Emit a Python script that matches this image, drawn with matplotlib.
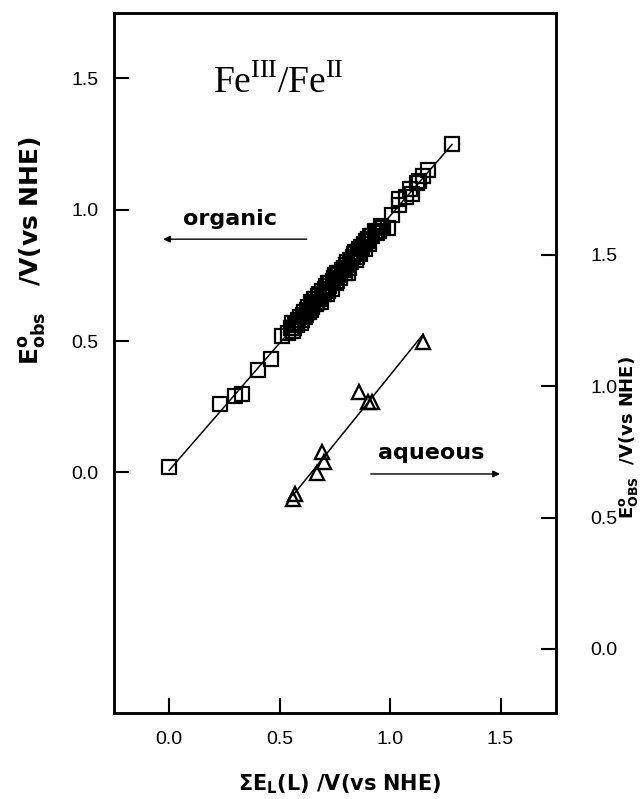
import numpy as np
import matplotlib
matplotlib.use("Agg")
import matplotlib.pyplot as plt

plt.rcParams['mathtext.fontset'] = 'custom'
plt.rcParams['mathtext.rm'] = 'Liberation Serif'
plt.rcParams['mathtext.bf'] = 'DejaVu Sans:bold'
plt.rcParams['mathtext.it'] = 'DejaVu Sans:bold'

# organic solvents (left axis)
org_x = [0.00, 0.23, 0.30, 0.33, 0.40, 0.46, 0.51, 0.54, 0.55, 0.56, 0.57, 0.58,
         0.59, 0.60, 0.61, 0.62, 0.63, 0.64, 0.64, 0.65, 0.66, 0.67, 0.68, 0.68,
         0.69, 0.70, 0.71, 0.72, 0.72, 0.73, 0.74, 0.75, 0.76, 0.76, 0.77, 0.78,
         0.79, 0.80, 0.81, 0.82, 0.83, 0.84, 0.85, 0.86, 0.87, 0.88, 0.89, 0.90,
         0.91, 0.93, 0.95, 0.97, 0.99, 1.01, 1.04, 1.04, 1.07, 1.09, 1.10, 1.12,
         1.13, 1.15, 1.17, 1.28,
         0.555, 0.565, 0.585, 0.595, 0.605, 0.615, 0.625, 0.635, 0.645, 0.655,
         0.665, 0.675, 0.685, 0.695, 0.705, 0.715, 0.725, 0.735, 0.745, 0.755,
         0.765, 0.775, 0.785, 0.795, 0.805, 0.815, 0.825, 0.835, 0.845, 0.855,
         0.865, 0.875, 0.885, 0.895, 0.905, 0.92, 0.94, 0.96]
org_y = [0.02, 0.26, 0.29, 0.30, 0.39, 0.43, 0.52, 0.53, 0.55, 0.54, 0.57, 0.56,
         0.59, 0.58, 0.61, 0.60, 0.63, 0.62, 0.65, 0.64, 0.66, 0.65, 0.68, 0.66,
         0.69, 0.68, 0.71, 0.69, 0.72, 0.72, 0.73, 0.75, 0.73, 0.76, 0.76, 0.77,
         0.78, 0.79, 0.76, 0.81, 0.82, 0.84, 0.82, 0.85, 0.86, 0.87, 0.88, 0.89,
         0.90, 0.92, 0.92, 0.93, 0.93, 0.98, 1.02, 1.04, 1.05, 1.08, 1.06, 1.10,
         1.11, 1.13, 1.15, 1.25,
         0.57, 0.55, 0.58, 0.57, 0.60, 0.59, 0.62, 0.61, 0.63, 0.66,
         0.64, 0.67, 0.65, 0.68, 0.70, 0.68, 0.71, 0.70, 0.74, 0.72,
         0.75, 0.74, 0.77, 0.76, 0.80, 0.78, 0.80, 0.83, 0.81, 0.84,
         0.83, 0.86, 0.85, 0.88, 0.87, 0.90, 0.91, 0.94]

# aqueous (right axis)
aq_x = [0.56, 0.57, 0.67, 0.70, 0.69, 0.86, 0.90, 0.92, 1.15]
aq_y = [0.57, 0.59, 0.67, 0.71, 0.75, 0.98, 0.94, 0.94, 1.17]

ticks = [0.0, 0.5, 1.0, 1.5]
tick_labels = ['0.0', '0.5', '1.0', '1.5']

fig = plt.figure(figsize=(6.44, 7.99), dpi=100)
ax = fig.add_axes([0.177, 0.108, 0.686, 0.876])
ax2 = ax.twinx()

ax.set_xlim(-0.25, 1.75)
ax.set_ylim(-0.915, 1.75)
ax2.set_ylim(-0.243, 2.422)

# least-squares lines through each set
p = np.polyfit(org_x, org_y, 1)
xx = np.array([min(org_x), max(org_x)])
ax.plot(xx, np.polyval(p, xx), color='black', lw=1.1)
ax.plot(org_x, org_y, ls='none', marker='s', ms=9.5, mfc='none', mec='black', mew=1.6)

q = np.polyfit(aq_x, aq_y, 1)
xx = np.array([min(aq_x), max(aq_x)])
ax2.plot(xx, np.polyval(q, xx), color='black', lw=1.1)
ax2.plot(aq_x, aq_y, ls='none', marker='^', ms=10.5, mfc='none', mec='black', mew=1.7)

for a in (ax, ax2):
    for s in a.spines.values():
        s.set_linewidth(1.8)

ax.set_xticks(ticks)
ax.set_xticklabels(tick_labels)
ax.set_yticks(ticks)
ax.set_yticklabels(tick_labels)
ax2.set_yticks(ticks)
ax2.set_yticklabels(tick_labels)
lab = dict(family='Liberation Sans', size=14)
for t in ax.get_xticklabels() + ax.get_yticklabels() + ax2.get_yticklabels():
    t.set_fontproperties(lab)
ax.tick_params(axis='x', direction='in', length=11, width=1.5, pad=13)
ax.tick_params(axis='y', direction='in', length=11, width=1.5, pad=11)
ax2.tick_params(axis='y', direction='in', length=11, width=1.5, pad=25)

ax.set_xlabel(r'$\mathbf{\Sigma E_{L}}$(L) /V(vs NHE)', fontsize=15, fontweight='bold')
ax.xaxis.set_label_coords(0.51, -0.085)
ax.set_ylabel(r'$\mathbf{E^{o}_{obs}}$   /V(vs NHE)', fontsize=18, fontweight='bold')
ax.yaxis.set_label_coords(-0.15, 0.66)
ax2.set_ylabel(r'$\mathbf{E^{o}_{OBS}}$  /V(vs NHE)', fontsize=13, fontweight='bold', rotation=90)
ax2.yaxis.set_label_coords(1.138, 0.393)

ax.text(0.20, 1.443, r'$\mathrm{Fe}^{\mathrm{III}}/\mathrm{Fe}^{\mathrm{II}}$',
        fontsize=27, ha='left', va='baseline')

ax.text(0.275, 0.964, 'organic', fontsize=16, fontweight='bold', ha='center', va='center')
ax.annotate('', xy=(-0.04, 0.888), xytext=(0.635, 0.888),
            arrowprops=dict(arrowstyle='-|>', color='black', lw=1.0, mutation_scale=10))
ax.text(1.185, 0.074, 'aqueous', fontsize=16, fontweight='bold', ha='center', va='center')
ax.annotate('', xy=(1.51, -0.006), xytext=(0.90, -0.006),
            arrowprops=dict(arrowstyle='-|>', color='black', lw=1.0, mutation_scale=10))

fig.savefig('out.png', dpi=100)
